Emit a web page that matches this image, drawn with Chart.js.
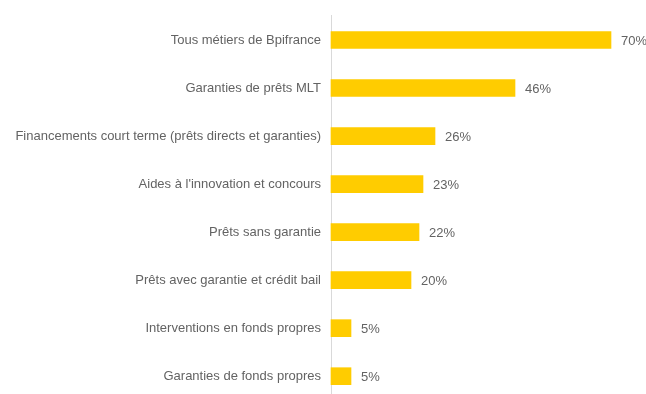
<!DOCTYPE html>
<html>
<head>
<meta charset="utf-8">
<script src="https://cdn.jsdelivr.net/npm/chart.js@4/dist/chart.umd.min.js"></script>
<style>
  html, body { margin: 0; padding: 0; background: #fff; }
  #wrap { width: 646px; height: 394px; }
</style>
</head>
<body>
<div id="wrap"><canvas id="c" width="646" height="394"></canvas></div>
<script>
const categories = [
  "Tous métiers de Bpifrance",
  "Garanties de prêts MLT",
  "Financements court terme (prêts directs et garanties)",
  "Aides à l'innovation et concours",
  "Prêts sans garantie",
  "Prêts avec garantie et crédit bail",
  "Interventions en fonds propres",
  "Garanties de fonds propres"
];
const shares = [70, 46, 26, 23, 22, 20, 5, 5];
const valueLabels = ["70%", "46%", "26%", "23%", "22%", "20%", "5%", "5%"];

const TEXT = "#636363";
const FAMILY = "'Liberation Sans', Arial, sans-serif";
const FONT = "13px " + FAMILY;

// Writes the percentage just past the end of each bar
const barValues = {
  id: "barValues",
  afterDatasetsDraw(chart) {
    const ctx = chart.ctx;
    const meta = chart.getDatasetMeta(0);
    ctx.save();
    ctx.font = FONT;
    ctx.fillStyle = TEXT;
    ctx.textAlign = "left";
    ctx.textBaseline = "middle";
    meta.data.forEach((bar, i) => {
      ctx.fillText(valueLabels[i], bar.x + 10, bar.y + 1);
    });
    ctx.restore();
  }
};

// Category axis line, running from above the first bar to the bottom edge
const axisLine = {
  id: "axisLine",
  beforeDatasetsDraw(chart) {
    const ctx = chart.ctx;
    const x = Math.round(chart.scales.y.right) + 0.5;
    ctx.save();
    ctx.strokeStyle = "#D9D9D9";
    ctx.lineWidth = 1;
    ctx.beginPath();
    ctx.moveTo(x, 15);
    ctx.lineTo(x, chart.height);
    ctx.stroke();
    ctx.restore();
  }
};

new Chart(document.getElementById("c"), {
  type: "bar",
  data: {
    labels: categories,
    datasets: [{
      data: shares,
      backgroundColor: "#FFCC00",
      borderWidth: 0,
      barThickness: 17,
      clip: false
    }]
  },
  options: {
    indexAxis: "y",
    responsive: false,
    animation: false,
    layout: { padding: { left: 0, right: 0, top: 40, bottom: 14 } },
    plugins: { legend: { display: false }, tooltip: { enabled: false } },
    scales: {
      x: {
        display: false,
        min: 0,
        max: 78.75
      },
      y: {
        offset: false,
        afterFit(scale) { scale.width = 331; },
        grid: { display: false, drawTicks: false, offset: false },
        border: { display: false },
        ticks: {
          color: TEXT,
          padding: 10,
          font: { family: FAMILY, size: 13 }
        }
      }
    }
  },
  plugins: [axisLine, barValues]
});
</script>
</body>
</html>
